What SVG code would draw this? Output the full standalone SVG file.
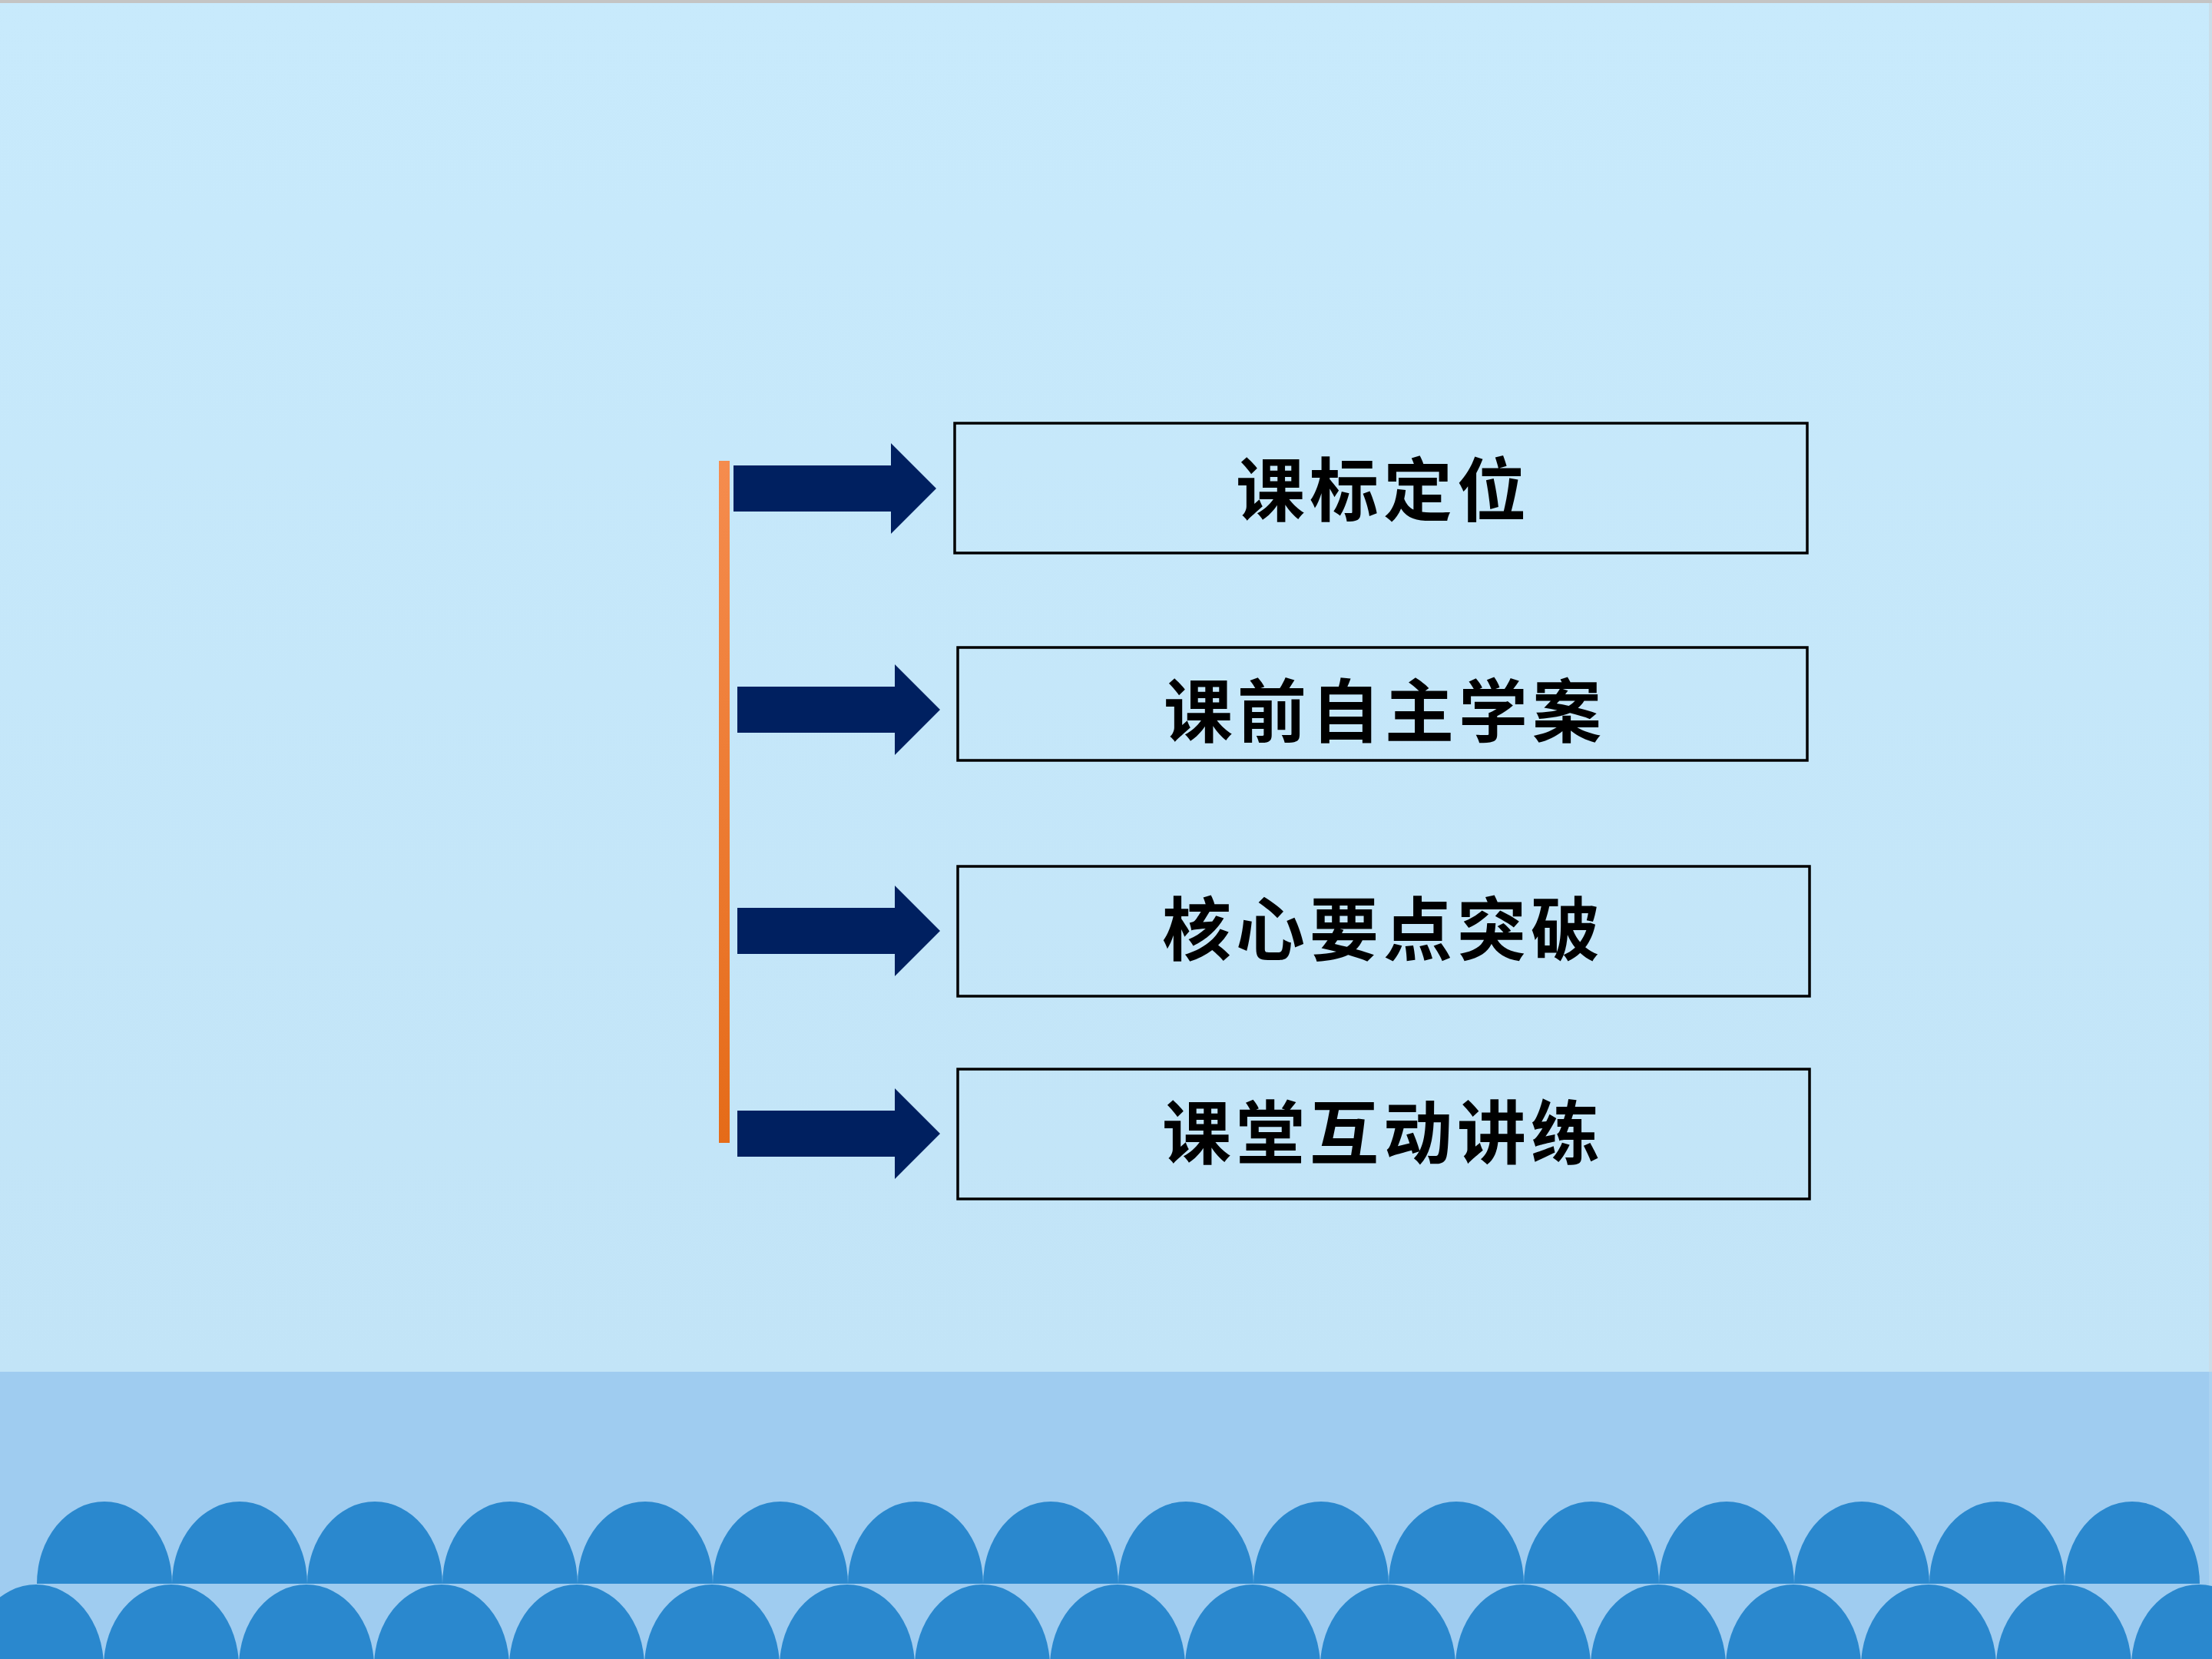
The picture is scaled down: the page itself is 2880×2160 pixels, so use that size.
<svg xmlns="http://www.w3.org/2000/svg" xmlns:xlink="http://www.w3.org/1999/xlink" width="2880" height="2160" viewBox="0 0 2880 2160">
  <style>
    .box { fill: none; stroke: #000000; stroke-width: 3.5; }
    .label { font-family: "Noto Sans CJK SC", "Noto Sans CJK TC", sans-serif; font-size: 90px; font-weight: 700; fill: #000000; text-anchor: middle; dominant-baseline: central; letter-spacing: 6px; }
    .arrow { fill: #002060; }
    .scallop { fill: #2A88CE; }
  </style>
  <defs>
    <linearGradient id="sky" x1="0" y1="0" x2="0" y2="1">
      <stop offset="0" stop-color="#C8EAFC"/>
      <stop offset="1" stop-color="#C2E4F7"/>
    </linearGradient>
    <linearGradient id="bar" x1="0" y1="0" x2="0" y2="1">
      <stop offset="0" stop-color="#F58C4E"/>
      <stop offset="1" stop-color="#E56B18"/>
    </linearGradient>
    <path id="arch" d="M-88,0 A88,107 0 0 1 88,0 Z"/>
    <ellipse id="dome" cx="0" cy="0" rx="88" ry="107"/>
    <path id="arr" d="M0,-30 H205 V-59 L264,0 L205,59 V30 H0 Z"/>
  </defs>

  <g id="background">
    <rect x="0" y="0" width="2880" height="1786" fill="url(#sky)"/>
    <rect x="0" y="1786" width="2880" height="374" fill="#9FCCF0"/>
    <rect x="0" y="0" width="2880" height="4" fill="#C4C4C4"/>
    <rect x="2876" y="4" width="4" height="1782" fill="#CADDE8"/>
    <rect x="2876" y="1786" width="4" height="374" fill="#ABD2F0"/>
    <g id="scallops-row2" class="scallop">
      <use xlink:href="#dome" x="47" y="2170"/>
      <use xlink:href="#dome" x="223" y="2170"/>
      <use xlink:href="#dome" x="399" y="2170"/>
      <use xlink:href="#dome" x="575" y="2170"/>
      <use xlink:href="#dome" x="751" y="2170"/>
      <use xlink:href="#dome" x="927" y="2170"/>
      <use xlink:href="#dome" x="1103" y="2170"/>
      <use xlink:href="#dome" x="1279" y="2170"/>
      <use xlink:href="#dome" x="1455" y="2170"/>
      <use xlink:href="#dome" x="1631" y="2170"/>
      <use xlink:href="#dome" x="1807" y="2170"/>
      <use xlink:href="#dome" x="1983" y="2170"/>
      <use xlink:href="#dome" x="2159" y="2170"/>
      <use xlink:href="#dome" x="2335" y="2170"/>
      <use xlink:href="#dome" x="2511" y="2170"/>
      <use xlink:href="#dome" x="2687" y="2170"/>
      <use xlink:href="#dome" x="2863" y="2170"/>
    </g>
    <g id="scallops-row1" class="scallop">
      <use xlink:href="#arch" x="136" y="2062"/>
      <use xlink:href="#arch" x="312" y="2062"/>
      <use xlink:href="#arch" x="488" y="2062"/>
      <use xlink:href="#arch" x="664" y="2062"/>
      <use xlink:href="#arch" x="840" y="2062"/>
      <use xlink:href="#arch" x="1016" y="2062"/>
      <use xlink:href="#arch" x="1192" y="2062"/>
      <use xlink:href="#arch" x="1368" y="2062"/>
      <use xlink:href="#arch" x="1544" y="2062"/>
      <use xlink:href="#arch" x="1720" y="2062"/>
      <use xlink:href="#arch" x="1896" y="2062"/>
      <use xlink:href="#arch" x="2072" y="2062"/>
      <use xlink:href="#arch" x="2248" y="2062"/>
      <use xlink:href="#arch" x="2424" y="2062"/>
      <use xlink:href="#arch" x="2600" y="2062"/>
      <use xlink:href="#arch" x="2776" y="2062"/>
    </g>
  </g>

  <g id="connectors">
    <rect id="bracket" x="936" y="600" width="14" height="888" fill="url(#bar)"/>
    <use class="arrow" xlink:href="#arr" x="955" y="636"/>
    <use class="arrow" xlink:href="#arr" x="960" y="924"/>
    <use class="arrow" xlink:href="#arr" x="960" y="1212"/>
    <use class="arrow" xlink:href="#arr" x="960" y="1476"/>
  </g>

  <g id="node-1">
    <rect class="box" x="1243" y="551" width="1110" height="169"/>
    <text class="label" x="1801" y="632">课标定位</text>
  </g>
  <g id="node-2">
    <rect class="box" x="1247" y="843" width="1106" height="147"/>
    <text class="label" x="1803" y="920">课前自主学案</text>
  </g>
  <g id="node-3">
    <rect class="box" x="1247" y="1128" width="1109" height="169"/>
    <text class="label" x="1801" y="1204">核心要点突破</text>
  </g>
  <g id="node-4">
    <rect class="box" x="1247" y="1392" width="1109" height="169"/>
    <text class="label" x="1801" y="1469">课堂互动讲练</text>
  </g>
</svg>
